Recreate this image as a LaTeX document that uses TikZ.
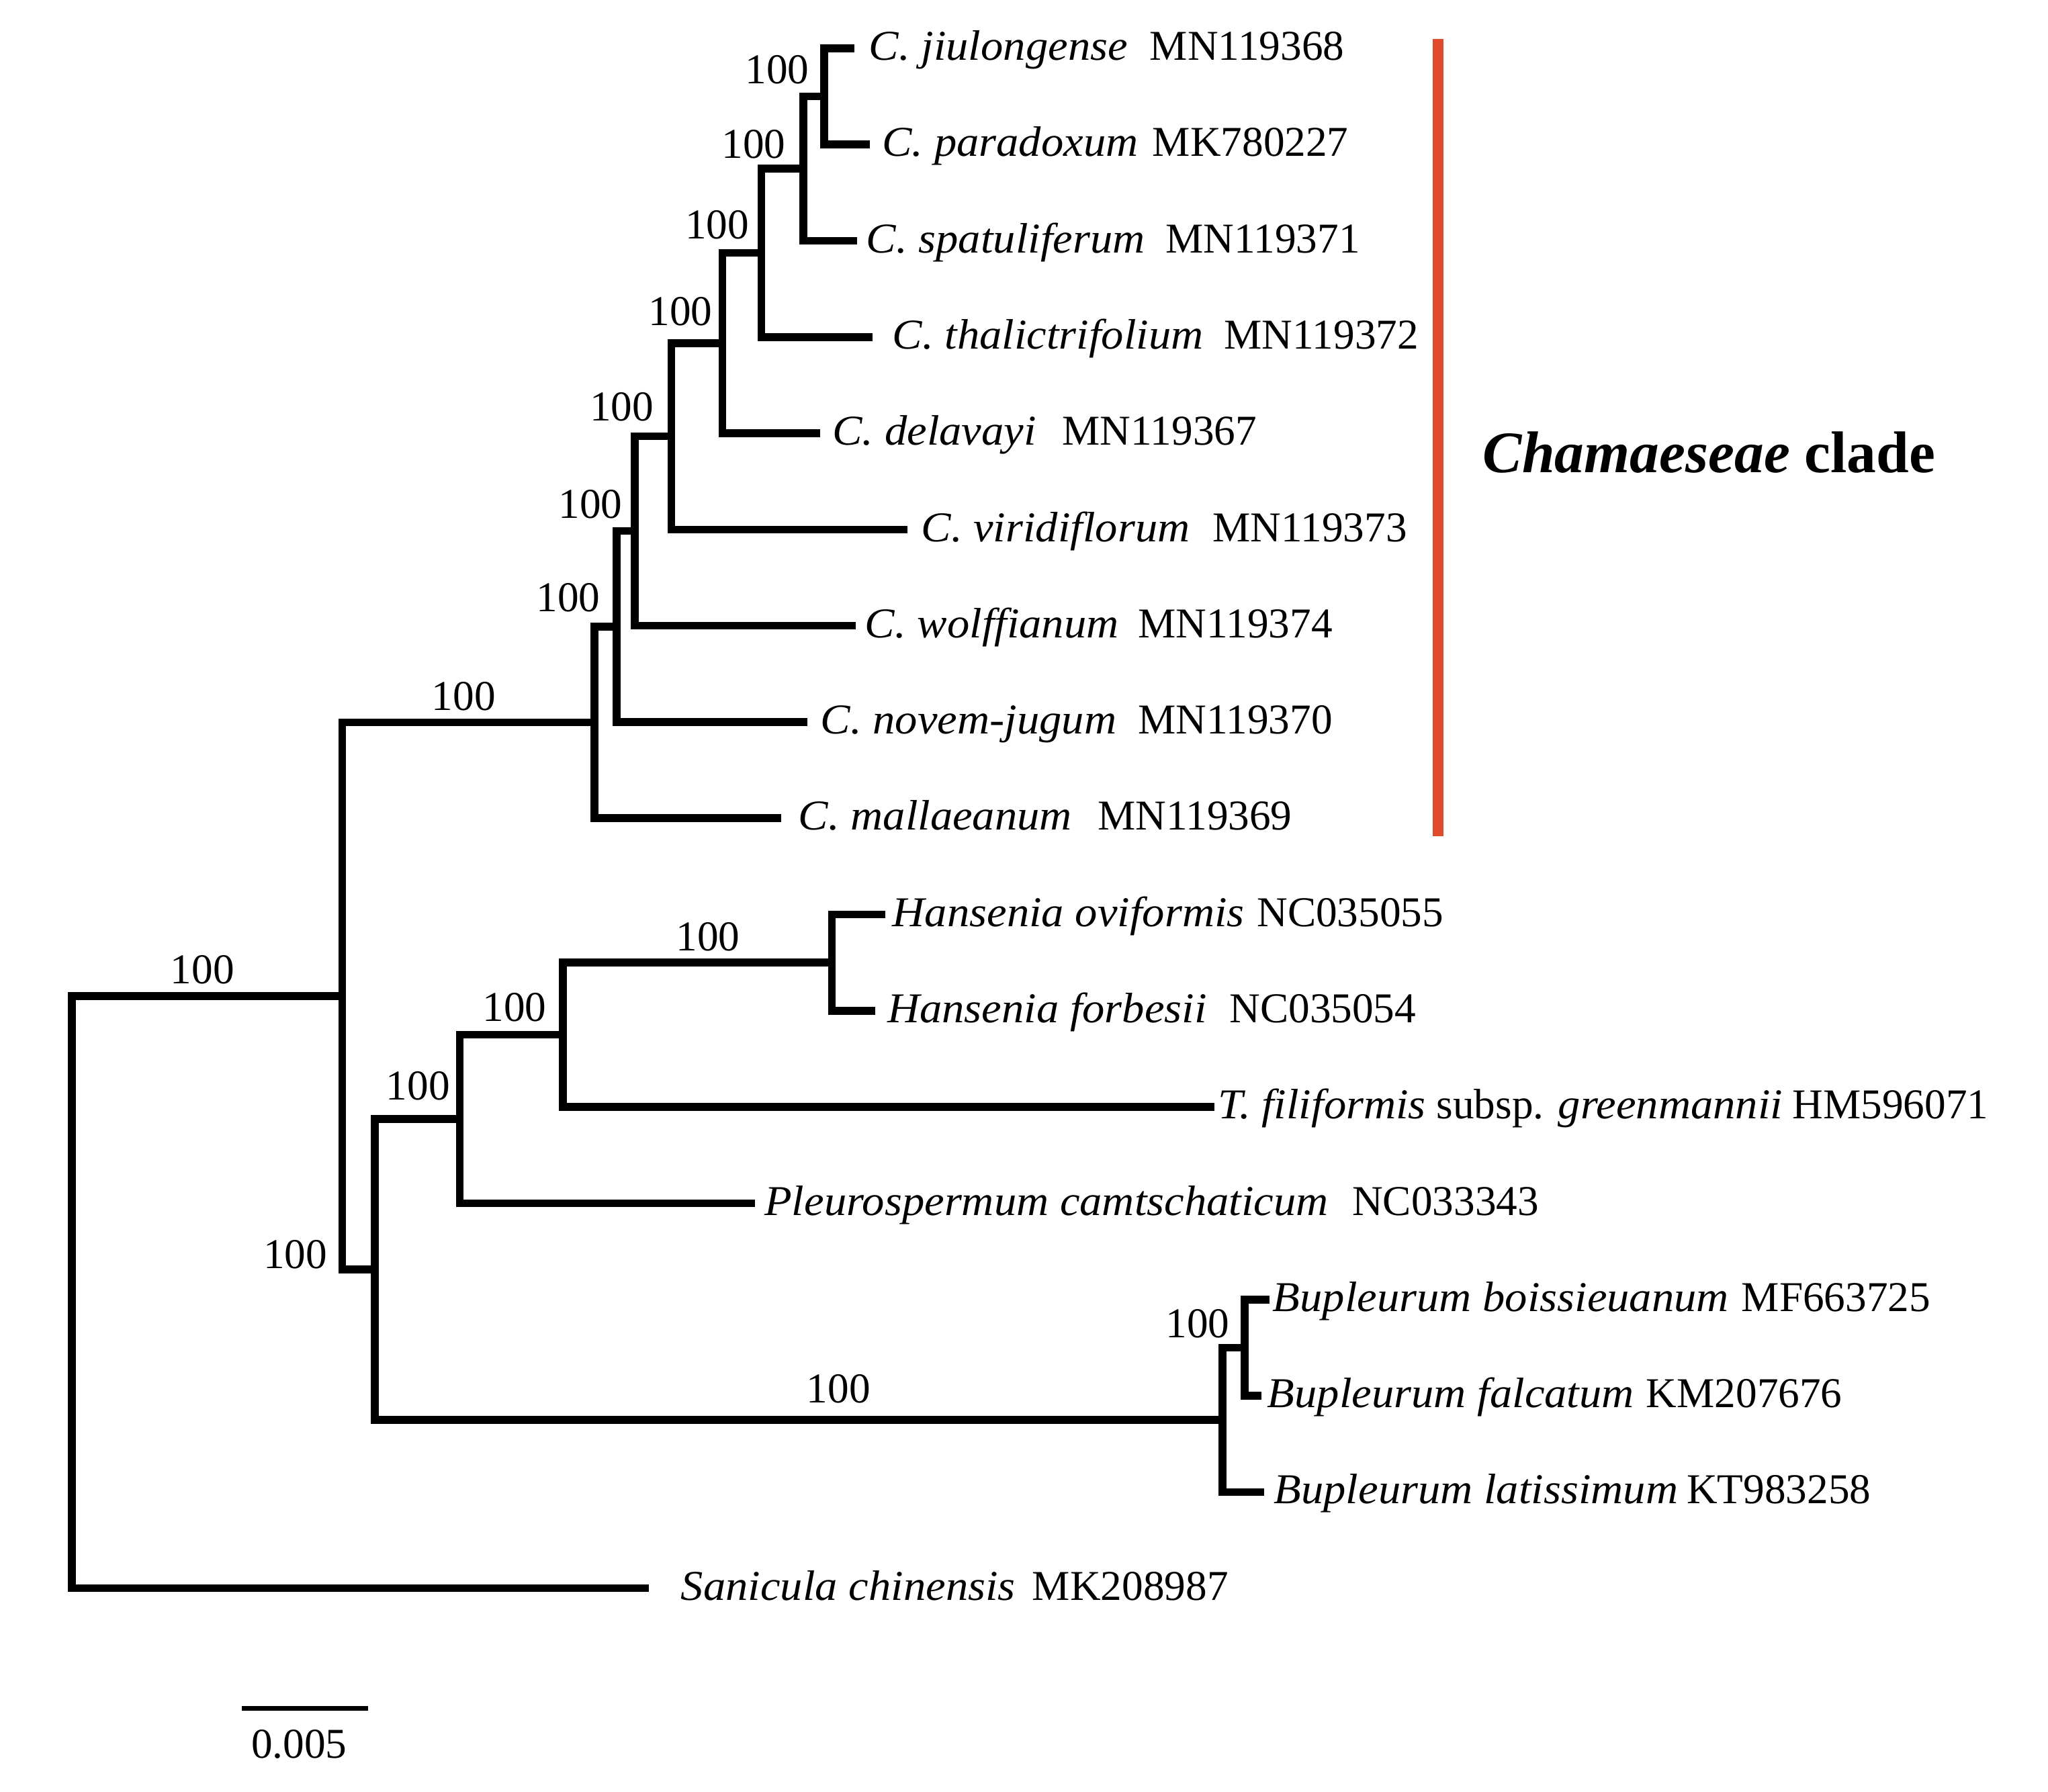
\documentclass[tikz,border=0pt]{standalone}
\usepackage{fontspec}
\setmainfont{Liberation Serif}
\newfontfamily\leafit{Liberation Serif}[FakeStretch=1.053]
\definecolor{cladered}{RGB}{222,75,45}
\tikzset{
  br/.style={line width=3.3pt, line join=miter, black},
  leafname/.style={anchor=base west, inner sep=0pt, font=\fontsize{18}{20}\leafit\itshape},
  accno/.style={anchor=base west, inner sep=0pt, font=\fontsize{18}{20}\selectfont},
  bslabel/.style={anchor=base, inner sep=0pt, font=\fontsize{18}{20}\selectfont},
}
\begin{document}
\begin{tikzpicture}[x=0.019445cm, y=-0.019445cm]
\useasboundingbox (0,0) rectangle (1568,1372);
% leaves (tips)
\coordinate (jiu)   at (654,37.0);
\coordinate (para)  at (666,110.7);
\coordinate (spat)  at (656,184.4);
\coordinate (thal)  at (668,258.1);
\coordinate (dela)  at (628,331.8);
\coordinate (viri)  at (695,405.5);
\coordinate (wolf)  at (655,479.1);
\coordinate (novem) at (618,552.8);
\coordinate (mall)  at (598,626.5);
\coordinate (ovif)  at (678,700.2);
\coordinate (forb)  at (670,773.9);
\coordinate (tfil)  at (930,847.6);
\coordinate (pleu)  at (578,921.3);
\coordinate (boiss) at (972,995.0);
\coordinate (falc)  at (966,1068.7);
\coordinate (lati)  at (968,1142.4);
\coordinate (sani)  at (497,1216.0);
% internal nodes
\coordinate (n8)   at (631,73.85);
\coordinate (n7)   at (615,129.1);
\coordinate (n6)   at (583,193.6);
\coordinate (n5)   at (553,262.7);
\coordinate (n4)   at (514,334.1);
\coordinate (n3)   at (486,406.6);
\coordinate (n2)   at (472,479.7);
\coordinate (n1)   at (455,553.1);
\coordinate (hans) at (637,737.05);
\coordinate (nD)   at (431,792.3);
\coordinate (nC)   at (352,856.8);
\coordinate (bupi) at (953,1031.85);
\coordinate (bup)  at (936,1087.1);
\coordinate (nB)   at (287,971.95);
\coordinate (nA)   at (262,762.5);
\coordinate (root) at (55,989.3);
% branches
\draw[br] (jiu) -| (n8) |- (para);
\draw[br] (n8) -| (n7) |- (spat);
\draw[br] (n7) -| (n6) |- (thal);
\draw[br] (n6) -| (n5) |- (dela);
\draw[br] (n5) -| (n4) |- (viri);
\draw[br] (n4) -| (n3) |- (wolf);
\draw[br] (n3) -| (n2) |- (novem);
\draw[br] (n2) -| (n1) |- (mall);
\draw[br] (ovif) -| (hans) |- (forb);
\draw[br] (hans) -| (nD) |- (tfil);
\draw[br] (nD) -| (nC) |- (pleu);
\draw[br] (boiss) -| (bupi) |- (falc);
\draw[br] (bupi) -| (bup) |- (lati);
\draw[br] (nC) -| (nB) |- (bup);
\draw[br] (n1) -| (nA) |- (nB);
\draw[br] (nA) -| (root) |- (sani);
% leaf labels
\node[leafname] (t-jiu)   at (665,46) {C. jiulongense};
\node[accno]    (a-jiu)   at (880,46) {MN119368};
\node[leafname] (t-para)  at (675,119.7) {C. paradoxum};
\node[accno]    (a-para)  at (882,119.7) {MK780227};
\node[leafname] (t-spat)  at (663,193.4) {C. spatuliferum};
\node[accno]    (a-spat)  at (892,193.4) {MN119371};
\node[leafname] (t-thal)  at (683,267.1) {C. thalictrifolium};
\node[accno]    (a-thal)  at (937,267.1) {MN119372};
\node[leafname] (t-dela)  at (637,340.8) {C. delavayi};
\node[accno]    (a-dela)  at (813,340.8) {MN119367};
\node[leafname] (t-viri)  at (705,414.5) {C. viridiflorum};
\node[accno]    (a-viri)  at (928,414.5) {MN119373};
\node[leafname] (t-wolf)  at (662,488.1) {C. wolffianum};
\node[accno]    (a-wolf)  at (871,488.1) {MN119374};
\node[leafname] (t-novem) at (628,561.8) {C. novem-jugum};
\node[accno]    (a-novem) at (871,561.8) {MN119370};
\node[leafname] (t-mall)  at (611,635.5) {C. mallaeanum};
\node[accno]    (a-mall)  at (840,635.5) {MN119369};
\node[leafname] (t-ovif)  at (683,709.2) {Hansenia oviformis};
\node[accno]    (a-ovif)  at (962,709.2) {NC035055};
\node[leafname] (t-forb)  at (679,782.9) {Hansenia forbesii};
\node[accno]    (a-forb)  at (941,782.9) {NC035054};
\node[accno]    (t-tfil)  at (932,856.6) {{\leafit\itshape T. filiformis} subsp. {\leafit\itshape greenmannii}};
\node[accno]    (a-tfil)  at (1372,856.6) {HM596071};
\node[leafname] (t-pleu)  at (585,930.3) {Pleurospermum camtschaticum};
\node[accno]    (a-pleu)  at (1035,930.3) {NC033343};
\node[leafname] (t-boiss) at (974,1004.0) {Bupleurum boissieuanum};
\node[accno]    (a-boiss) at (1333,1004.0) {MF663725};
\node[leafname] (t-falc)  at (970,1077.7) {Bupleurum falcatum};
\node[accno]    (a-falc)  at (1260,1077.7) {KM207676};
\node[leafname] (t-lati)  at (975,1151.4) {Bupleurum latissimum};
\node[accno]    (a-lati)  at (1291,1151.4) {KT983258};
\node[leafname] (t-sani)  at (521,1225.0) {Sanicula chinensis};
\node[accno]    (a-sani)  at (790,1225.0) {MK208987};
% bootstrap labels
\node[bslabel] (bA)  at (155,753) {100};
\node[bslabel] (bCh) at (355,544) {100};
\node[bslabel] (bB)  at (226,971) {100};
\node[bslabel] (bC)  at (320,842) {100};
\node[bslabel] (bBu) at (642,1074) {100};
\node[bslabel] (bD)  at (394,782) {100};
\node[bslabel] (bH)  at (542,728) {100};
\node[bslabel] (b2)  at (435,468) {100};
\node[bslabel] (b3)  at (452,397) {100};
\node[bslabel] (b4)  at (476,322) {100};
\node[bslabel] (b5)  at (521,249) {100};
\node[bslabel] (b6)  at (549,183) {100};
\node[bslabel] (b7)  at (577,121) {100};
\node[bslabel] (b8)  at (595,64) {100};
\node[bslabel] (bBi) at (917,1024) {100};
% clade bar
\coordinate (cl1) at (1101,30);
\coordinate (cl2) at (1101,640);
\draw[cladered, line width=4.4pt] (cl1) -- (cl2);
\node[anchor=base west, inner sep=0pt, font=\fontsize{24.9}{28}\selectfont\bfseries] (clade) at (1135,362) {\textit{Chamaeseae} clade};
% scale bar
\coordinate (sb1) at (185,1308);
\coordinate (sb2) at (282,1308);
\draw[line width=2.2pt] (sb1) -- (sb2);
\node[bslabel] (sbl) at (229,1346) {0.005};
\end{tikzpicture}
\end{document}
